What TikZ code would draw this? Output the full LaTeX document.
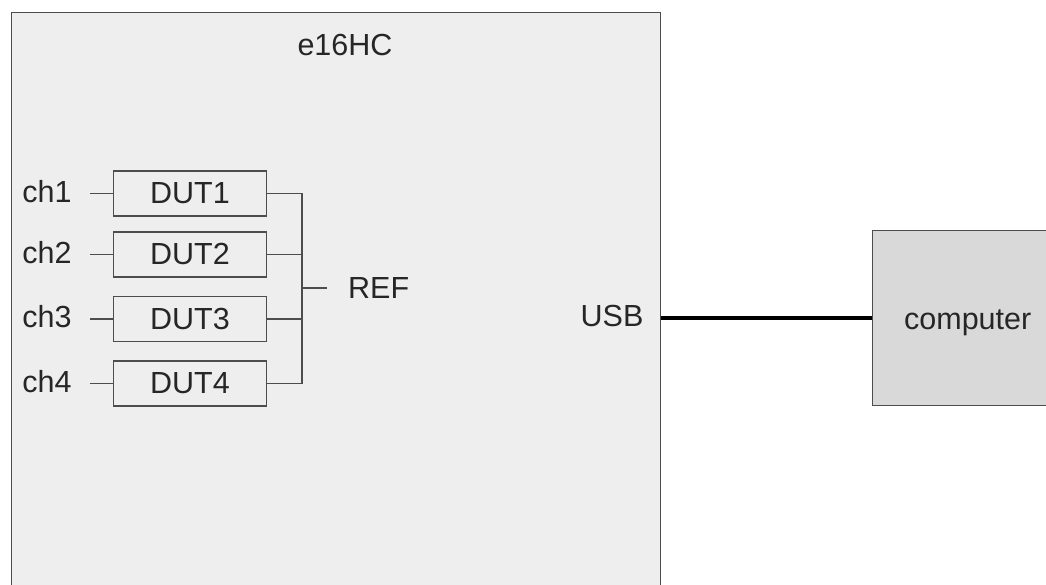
\documentclass[tikz,border=0pt]{standalone}
\usepackage{fontspec}
\setmainfont{Liberation Sans}
\usetikzlibrary{positioning}
\definecolor{boardgray}{HTML}{EEEEEE}
\definecolor{pcgray}{HTML}{D9D9D9}
\definecolor{edgegray}{HTML}{4D4D4D}
\tikzset{wire/.style={draw=edgegray,line width=1.4pt}, every node/.style={inner sep=0pt,text=black!85,font=\fontsize{30.5}{36}\selectfont}}
\tikzset{dutbox/.style={wire,minimum width=153pt,minimum height=45pt}}

\begin{document}
\begin{tikzpicture}[x=1pt,y=-1pt]
   \useasboundingbox (0,0) rectangle (1046,585);
   \begin{scope}
    \clip (0,0) rectangle (1046,585);
    \node[wire,fill=boardgray,minimum width=649pt,minimum height=600pt,anchor=north west] (board) at (11,12) {};
    \node[wire,fill=pcgray,minimum width=190pt,minimum height=175pt,anchor=north west] (pc) at (872,230) {\raisebox{-11.5pt}[0pt][0pt]{computer}};
   \end{scope}
   \node (name) at (345,45) {e16HC};
   \coordinate (bus) at (302,288);
   \foreach \i/\y in {1/193.5,2/254.5,3/319,4/383.5} {
    \node[dutbox] (dut\i) at (190,\y) {DUT\i};
    \node[left=41pt of dut\i,yshift=2pt] (ch\i) {ch\i};
    \draw[wire] ([xshift=18pt,yshift=-2pt]ch\i.east) -- (dut\i.west);
    \draw[wire] (dut\i.east) -- (dut\i.east -| bus);
   }
   \draw[wire] (dut1.east -| bus) -- (dut4.east -| bus);
   \node[right=46pt of bus] (ref) {REF};
   \draw[wire] (bus) -- ([xshift=-21pt]ref.west);
   \node (usb) at (612,316) {USB};
   \draw[black,line width=4pt] (board.east |- 0,318) -- (pc.west |- 0,318);
  \end{tikzpicture}
\end{document}
